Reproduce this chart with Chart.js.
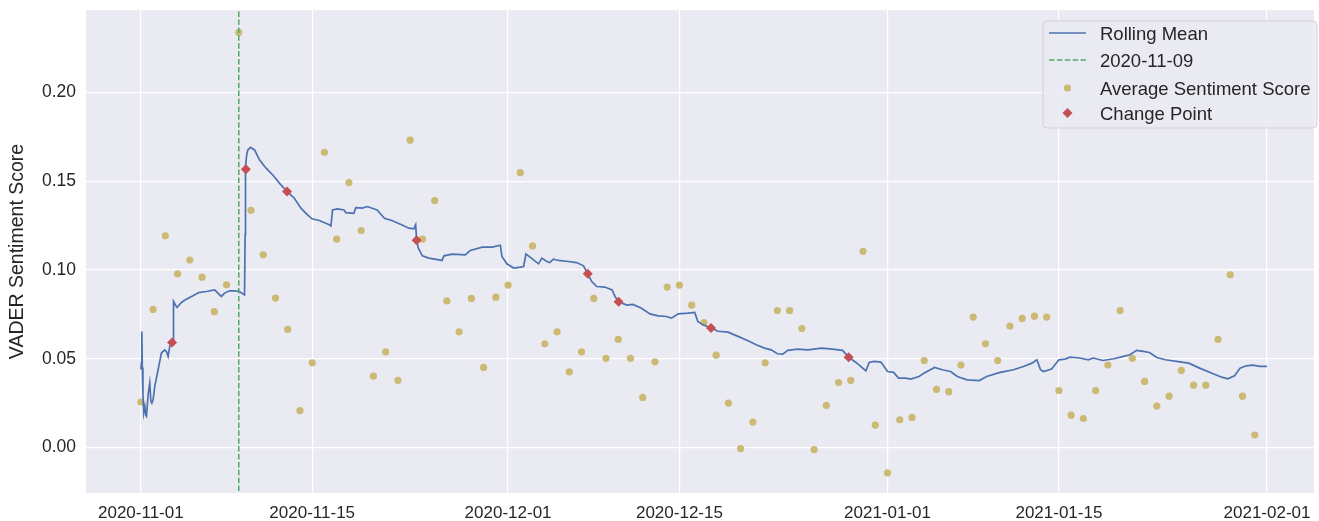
<!DOCTYPE html>
<html><head><meta charset="utf-8">
<script src="https://cdn.jsdelivr.net/npm/chart.js@4.4.0/dist/chart.umd.min.js"></script>
<style>html,body{margin:0;padding:0;background:#fff;}#wrap{width:1319px;height:521px;}</style>
</head><body><div id="wrap"><canvas id="c" width="1319" height="521"></canvas></div>
<script>
const startDate = '2020-11-01';
// daily average sentiment score, one per day from 2020-11-01 to 2021-01-31
const avgScores = [0.0256,0.0778,0.1193,0.0979,0.1056,0.0960,0.0765,0.0917,0.2340,0.1337,
0.1086,0.0842,0.0665,0.0207,0.0477,0.1664,0.1174,0.1493,0.1223,0.0402,
0.0539,0.0378,0.1732,0.1174,0.1392,0.0826,0.0652,0.0840,0.0451,0.0847,
0.0915,0.1549,0.1136,0.0584,0.0652,0.0426,0.0539,0.0840,0.0502,0.0609,
0.0502,0.0282,0.0483,0.0904,0.0915,0.0802,0.0704,0.0520,0.0250,-0.0007,
0.0143,0.0477,0.0772,0.0772,0.0670,-0.0013,0.0237,0.0366,0.0378,0.1106,
0.0126,-0.0143,0.0156,0.0169,0.0490,0.0327,0.0314,0.0464,0.0735,0.0584,
0.0490,0.0684,0.0727,0.0740,0.0735,0.0321,0.0182,0.0163,0.0321,0.0464,
0.0772,0.0502,0.0372,0.0233,0.0289,0.0434,0.0351,0.0351,0.0609,0.0973,
0.0289,0.0070];
// rolling mean: days since start, value
const rollDays = [0.00,0.05,0.08,0.12,0.17,0.24,0.33,0.41,0.46,0.60,0.73,0.82,0.90,1.00,1.14,1.41,1.68,1.95,2.10,2.23,2.36,2.55,2.63,2.67,2.85,2.96,3.31,3.72,4.26,4.72,5.35,6.03,6.30,6.57,6.84,7.25,7.65,8.06,8.47,8.52,8.55,8.65,8.74,8.96,9.29,9.69,10.23,10.78,11.32,11.94,12.54,13.08,13.49,13.98,14.58,15.39,
15.53,15.66,16.07,16.60,16.74,17.40,17.56,18.10,18.50,19.30,19.90,20.50,21.30,21.90,22.30,22.45,22.53,22.67,23.00,23.53,24.35,24.60,24.76,25.44,26.50,26.90,27.90,28.70,29.37,29.50,29.90,30.46,31.00,31.27,31.46,
31.80,32.49,32.76,33.17,33.40,33.70,34.12,34.90,35.60,36.16,36.51,36.84,37.24,37.90,38.50,38.74,39.03,39.70,40.20,40.90,41.59,42.27,42.94,43.35,43.90,44.70,45.25,45.50,45.93,46.58,47.15,47.97,
48.78,49.60,50.27,50.95,51.50,52.00,52.44,52.85,53.66,54.50,55.60,56.50,57.33,57.82,58.42,58.83,59.23,59.50,59.90,60.45,60.72,61.00,61.50,61.90,62.48,62.90,63.57,64.00,64.85,65.47,66.15,66.70,67.50,68.50,69.10,70.20,71.30,72.10,72.80,73.20,73.50,73.75,74.40,75.00,75.50,75.90,76.70,77.40,77.80,78.60,79.50,80.27,80.80,81.35,81.90,82.40,83.00,83.70,84.60,85.60,86.50,87.60,88.30,88.80,89.35,89.80,90.30,90.85,91.40,92.00];
const rollValues = [0.0440,0.0480,0.0654,0.0450,0.0300,0.0194,0.0230,0.0180,0.0175,0.0300,0.0363,0.0260,0.0250,0.0270,0.0344,0.0438,0.0532,0.0550,0.0540,0.0513,0.0569,0.0592,0.0588,0.0823,0.0800,0.0789,0.0817,0.0836,0.0855,0.0873,0.0879,0.0888,0.0870,0.0851,0.0870,0.0883,0.0883,0.0879,0.0860,0.1200,0.1583,0.1650,0.1677,0.1692,0.1677,0.1621,0.1574,0.1536,0.1490,0.1443,0.1405,0.1349,0.1320,0.1289,0.1279,0.1255,
0.1249,0.1339,0.1345,0.1339,0.1324,0.1320,0.1352,0.1349,0.1358,0.1339,0.1292,0.1279,0.1255,0.1236,0.1232,0.1255,0.1168,0.1123,0.1080,0.1067,0.1057,0.1054,0.1080,0.1090,0.1086,0.1110,0.1129,0.1129,0.1140,0.1076,0.1035,0.1011,0.1016,0.1020,0.1090,
0.1073,0.1035,0.1067,0.1048,0.1042,0.1061,0.1054,0.1048,0.1042,0.1024,0.0979,0.0935,0.0907,0.0904,0.0888,0.0851,0.0821,0.0802,0.0806,0.0785,0.0753,0.0742,0.0738,0.0729,0.0753,0.0757,0.0761,0.0710,0.0691,0.0673,0.0655,0.0650,
0.0626,0.0601,0.0579,0.0560,0.0550,0.0528,0.0526,0.0547,0.0554,0.0550,0.0560,0.0554,0.0547,0.0509,0.0479,0.0456,0.0432,0.0479,0.0485,0.0481,0.0456,0.0428,0.0423,0.0391,0.0391,0.0385,0.0400,0.0419,0.0451,0.0438,0.0428,0.0400,0.0381,0.0377,0.0400,0.0423,0.0438,0.0456,0.0475,0.0494,0.0438,0.0428,0.0442,0.0494,0.0498,0.0509,0.0504,0.0494,0.0504,0.0490,0.0500,0.0513,0.0522,0.0547,0.0541,0.0535,0.0507,0.0494,0.0485,0.0475,0.0447,0.0415,0.0396,0.0387,0.0404,0.0447,0.0460,0.0464,0.0457,0.0457];
const changeDays = [2.55,8.58,11.94,22.53,36.51,39.03,46.58,57.82];
const changeValues = [0.0592,0.1568,0.1443,0.1168,0.0979,0.0821,0.0673,0.0509];
const eventDate = '2020-11-09';
const tickDates = ['2020-11-01','2020-11-15','2020-12-01','2020-12-15','2021-01-01','2021-01-15','2021-02-01'];
const yTicks = [0.00,0.05,0.10,0.15,0.20];

const DAY = 86400000;
function dayOf(s){const [y,m,d]=s.split('-').map(Number);const [y0,m0,d0]=startDate.split('-').map(Number);return (Date.UTC(y,m-1,d)-Date.UTC(y0,m0-1,d0))/DAY;}
const tickDays = tickDates.map(dayOf);
const eventDay = dayOf(eventDate);

const FONT = "'Liberation Sans', Arial, Helvetica, sans-serif";
const TXT = '#262626';
const C_BLUE='#4C72B0', C_GREEN='#55A868', C_GOLD='#CCB974', C_RED='#C44E52';
const DASH=[5.5,2.4];

const bgPlugin = {id:'bg', beforeDraw(chart){const {ctx,chartArea:a}=chart;ctx.save();ctx.fillStyle='#EAEAF2';ctx.fillRect(a.left,a.top,a.right-a.left,a.bottom-a.top);ctx.restore();}};

const legendPlugin = {id:'lg', afterDraw(chart){
  const ctx=chart.ctx; const ds=chart.data.datasets;
  ctx.save();
  const bx=1043,by=21,bw=274,bh=107,r=4;
  ctx.beginPath();ctx.moveTo(bx+r,by);ctx.arcTo(bx+bw,by,bx+bw,by+bh,r);ctx.arcTo(bx+bw,by+bh,bx,by+bh,r);ctx.arcTo(bx,by+bh,bx,by,r);ctx.arcTo(bx,by,bx+bw,by,r);ctx.closePath();
  ctx.fillStyle='rgba(234,234,242,0.8)';ctx.fill();ctx.strokeStyle='rgba(204,204,204,0.8)';ctx.lineWidth=1;ctx.stroke();
  const hx0=1049,hx1=1086,hc=1067.5;
  const rows=[33,60,88,113];
  ctx.globalAlpha=0.75;ctx.strokeStyle=C_BLUE;ctx.lineWidth=1.8;ctx.beginPath();ctx.moveTo(hx0,rows[0]);ctx.lineTo(hx1,rows[0]);ctx.stroke();
  ctx.globalAlpha=1;ctx.strokeStyle=C_GREEN;ctx.lineWidth=1.5;ctx.setLineDash(DASH);ctx.beginPath();ctx.moveTo(hx0,rows[1]);ctx.lineTo(hx1,rows[1]);ctx.stroke();ctx.setLineDash([]);
  ctx.fillStyle=C_GOLD;ctx.beginPath();ctx.arc(hc,rows[2],3.6,0,Math.PI*2);ctx.fill();
  ctx.fillStyle=C_RED;ctx.beginPath();ctx.moveTo(hc,rows[3]-5);ctx.lineTo(hc+5,rows[3]);ctx.lineTo(hc,rows[3]+5);ctx.lineTo(hc-5,rows[3]);ctx.closePath();ctx.fill();
  ctx.fillStyle=TXT;ctx.font='18.5px '+FONT;ctx.textBaseline='middle';ctx.textAlign='left';
  const order=['rolling','event','avg','change'];
  order.forEach((k,i)=>{const d=ds.find(x=>x.key===k);ctx.fillText(d.label,1100,rows[i]+1.5);});
  ctx.restore();
}};

function zeroPad(s){s.paddingTop=0;s.paddingBottom=0;s.paddingLeft=0;s.paddingRight=0;}

new Chart(document.getElementById('c'),{
  type:'scatter',
  data:{datasets:[
    {key:'change',label:'Change Point',data:changeDays.map((d,i)=>({x:d,y:changeValues[i]})),pointStyle:'rectRot',pointRadius:5,backgroundColor:C_RED,borderWidth:0,order:1},
    {key:'event',label:eventDate,data:[{x:eventDay,y:-1},{x:eventDay,y:1}],showLine:true,borderColor:C_GREEN,borderWidth:1.5,borderDash:DASH,pointRadius:0,order:2},
    {key:'rolling',label:'Rolling Mean',data:rollDays.map((d,i)=>({x:d,y:rollValues[i]})),showLine:true,borderColor:C_BLUE,borderWidth:1.7,pointRadius:0,tension:0,order:3},
    {key:'avg',label:'Average Sentiment Score',data:avgScores.map((v,i)=>({x:i,y:v})),pointRadius:3.6,backgroundColor:C_GOLD,borderWidth:0,order:4}
  ]},
  options:{
    responsive:false,animation:false,devicePixelRatio:1,
    layout:{padding:{top:10,right:1,left:0,bottom:0}},
    plugins:{legend:{display:false},tooltip:{enabled:false}},
    scales:{
      x:{type:'linear',min:-4.48,max:95.84,
        grid:{color:'#ffffff',lineWidth:1.2,drawTicks:false},border:{display:false},
        afterBuildTicks:s=>{s.ticks=tickDays.map(v=>({value:v}));},
        afterFit:s=>{s.height=28;zeroPad(s);},
        ticks:{autoSkip:false,maxRotation:0,padding:10,color:TXT,font:{family:FONT,size:17},
          callback:v=>{const i=tickDays.indexOf(v);return i>=0?tickDates[i]:'';}}},
      y:{type:'linear',min:-0.0257,max:0.2466,
        grid:{color:'#ffffff',lineWidth:1.2,drawTicks:false},border:{display:false},
        afterBuildTicks:s=>{s.ticks=yTicks.map(v=>({value:v}));},
        afterFit:s=>{s.width=86;zeroPad(s);},
        ticks:{padding:10,color:TXT,font:{family:FONT,size:17.5},callback:v=>v.toFixed(2)},
        title:{display:true,text:'VADER Sentiment Score',color:TXT,font:{family:FONT,size:19.5},padding:{top:6,bottom:0}}}
    }
  },
  plugins:[bgPlugin,legendPlugin]
});
</script></body></html>
